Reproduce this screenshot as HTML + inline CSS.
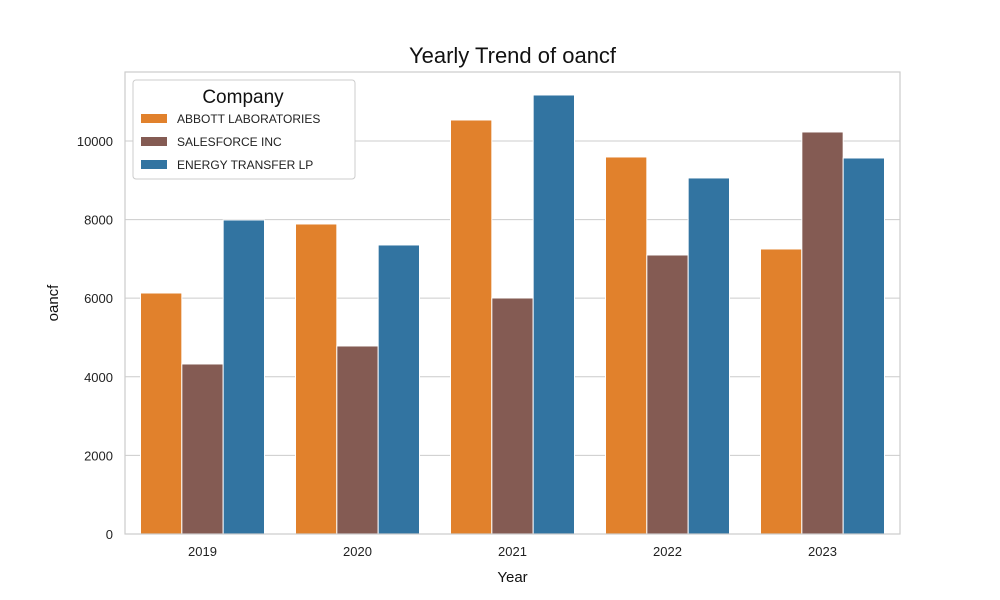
<!DOCTYPE html>
<html><head><meta charset="utf-8"><style>
body{margin:0;background:#fff;}
svg{display:block;font-family:"Liberation Sans",sans-serif;}
</style></head><body>
<svg id="chart" width="1000" height="600"></svg>
<script>
const years=["2019","2020","2021","2022","2023"];
const companies=["ABBOTT LABORATORIES","SALESFORCE INC","ENERGY TRANSFER LP"];
const abbott=[6132,7888,10534,9593,7252];
const salesforce=[4326,4784,6005,7099,10229];
const energy=[7990,7354,11170,9059,9567];
const yTicks=[0,2000,4000,6000,8000,10000];
const colors=["#e1812c","#845b53","#3274a1"];
const series=[abbott,salesforce,energy];
const L=125,R=900,T=72,B=534,yMax=11755;
const NS="http://www.w3.org/2000/svg";
const svg=document.getElementById('chart');
function y(v){return B-(v/yMax)*(B-T);}
const bw=(R-L)/years.length;
function x(i){return L+bw*i;}
function mk(tag,attrs,parent){const e=document.createElementNS(NS,tag);for(const k in attrs)e.setAttribute(k,attrs[k]);(parent||svg).appendChild(e);return e;}
// grid
yTicks.forEach(t=>{
 const g=mk('line',{x1:L,x2:R,y1:y(t),y2:y(t),stroke:'#cccccc','stroke-width':1});
 
 
 const lb=mk('text',{x:L-12,y:y(t)+5,'text-anchor':'end','font-size':13,fill:'#222'});
 lb.textContent=t;
 
 
});
// bars
const w=bw*0.8/3;
series.forEach((s,si)=>{
 s.forEach((v,i)=>{
  const bx=x(i)+bw*0.1+si*w;
  const r=mk('rect',{x:bx,y:y(v),width:w,height:B-y(v),fill:colors[si],stroke:'#fff','stroke-width':1});
  
  
 });
});
years.forEach((yr,i)=>{
 const t=mk('text',{x:x(i)+bw/2,y:B+22,'text-anchor':'middle','font-size':13,fill:'#222'});
 t.textContent=yr;
 
 
});
const fr=mk('rect',{x:L,y:T,width:R-L,height:B-T,fill:'none',stroke:'#cccccc','stroke-width':1.2});


// titles
const ti=mk('text',{x:(L+R)/2,y:63,'text-anchor':'middle','font-size':22,fill:'#111'});
ti.textContent='Yearly Trend of oancf';


const xt=mk('text',{x:(L+R)/2,y:582,'text-anchor':'middle','font-size':15,fill:'#111'});
xt.textContent='Year';


const yt=mk('text',{x:58,y:303,'text-anchor':'middle','font-size':15,fill:'#111',transform:'rotate(-90 58 303)'});
yt.textContent='oancf';


// legend
const lg=mk('g',{});


mk('rect',{x:133,y:80,width:222,height:99,fill:'#fff',stroke:'#cccccc',rx:3},lg);
const lt=mk('text',{x:243,y:103,'text-anchor':'middle','font-size':19,fill:'#111'},lg);
lt.textContent='Company';
companies.forEach((c,i)=>{
 const e=mk('g',{},lg);
 
 
 mk('rect',{x:141,y:114+i*23,width:26,height:9,fill:colors[i]},e);
 const t=mk('text',{x:177,y:123+i*23,'font-size':12,fill:'#222'},e);
 t.textContent=c;
});
</script>
</body></html>
